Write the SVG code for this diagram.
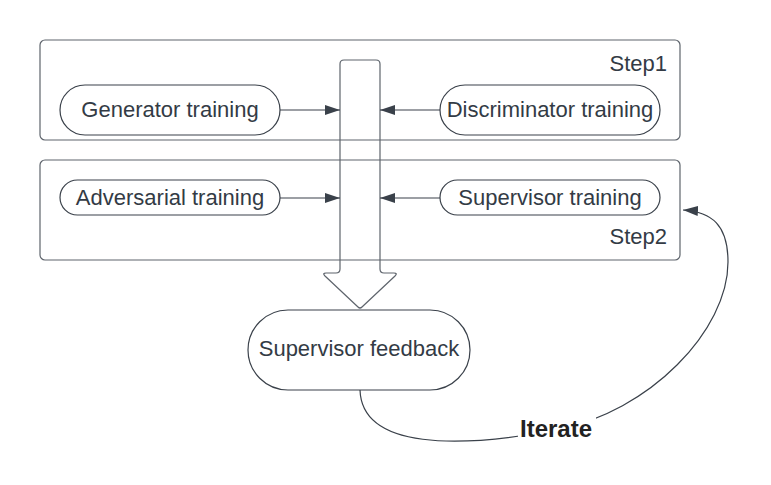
<svg xmlns="http://www.w3.org/2000/svg" width="771" height="485" viewBox="0 0 771 485">
<defs>
<style>
.box{fill:#fff;stroke:#5e646c;stroke-width:1.2}
.pill{fill:#fff;stroke:#3a414a;stroke-width:1.2}
.t{font-family:"Liberation Sans",Arial,sans-serif;font-size:22px;fill:#333b45}
.b{font-family:"Liberation Sans",Arial,sans-serif;font-size:24px;font-weight:bold;fill:#222}
.c{fill:none;stroke:#3a414a;stroke-width:1.2}
</style>
<marker id="ah" markerWidth="16" markerHeight="11" refX="15" refY="5.5" orient="auto" markerUnits="userSpaceOnUse">
<path d="M0,0.5 L15,5.5 L0,10.5 Z" fill="#3a414a"/>
</marker>
</defs>
<rect width="771" height="485" fill="#fff"/>
<g id="step1">
<rect class="box" x="40" y="40" width="640" height="100" rx="5"/>
<text class="t" x="667" y="71" text-anchor="end">Step1</text>
</g>
<g id="step2">
<rect class="box" x="40" y="160" width="640" height="100" rx="5"/>
<text class="t" x="667" y="244" text-anchor="end">Step2</text>
</g>
<g id="bigarrow">
<path class="box" d="M344,60 L376,60 Q380,60 380,64 L380,269 Q380,273 384,273 L394,273 Q398,273 395,276 L362,307 Q360,309 358,307 L325,276 Q322,273 326,273 L336,273 Q340,273 340,269 L340,64 Q340,60 344,60 Z" style="fill:none"/>
</g>
<g id="generator">
<rect class="pill" x="60" y="85" width="220" height="50" rx="25"/>
<text class="t" x="170" y="117" text-anchor="middle">Generator training</text>
</g>
<g id="discriminator">
<rect class="pill" x="440" y="85" width="220" height="50" rx="25"/>
<text class="t" x="550" y="117" text-anchor="middle">Discriminator training</text>
</g>
<g id="adversarial">
<rect class="pill" x="60" y="180" width="220" height="35" rx="17.5"/>
<text class="t" x="170" y="205" text-anchor="middle">Adversarial training</text>
</g>
<g id="supervisor">
<rect class="pill" x="440" y="180" width="220" height="35" rx="17.5"/>
<text class="t" x="550" y="205" text-anchor="middle">Supervisor training</text>
</g>
<g id="feedback">
<rect class="pill" x="248" y="310" width="222" height="80" rx="40"/>
<text class="t" x="359" y="356" text-anchor="middle">Supervisor feedback</text>
</g>
<g id="connectors">
<line class="c" x1="280" y1="110" x2="340" y2="110" marker-end="url(#ah)"/>
<line class="c" x1="440" y1="110" x2="380" y2="110" marker-end="url(#ah)"/>
<line class="c" x1="280" y1="198" x2="340" y2="198" marker-end="url(#ah)"/>
<line class="c" x1="440" y1="198" x2="380" y2="198" marker-end="url(#ah)"/>
<path class="c" d="M360,390 C362,450 460,448 556,430 C650,412 728,330 728,262 C728,225 712,212 683,210" marker-end="url(#ah)"/>
<rect x="518" y="411" width="78" height="30" fill="#fff"/>
<text class="b" x="556" y="437" text-anchor="middle">Iterate</text>
</g>
</svg>
